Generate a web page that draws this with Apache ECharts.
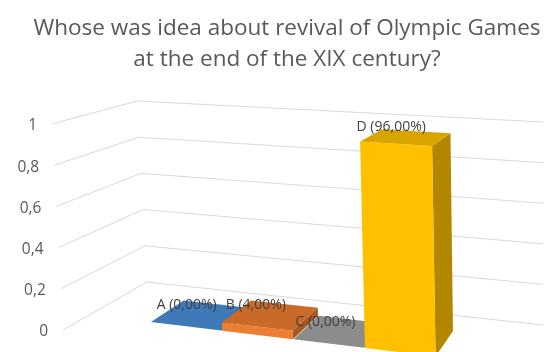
<!DOCTYPE html>
<html><head><meta charset="utf-8">
<script src="https://cdn.jsdelivr.net/npm/echarts@6/dist/echarts.min.js"></script>
<style>html,body{margin:0;padding:0;background:#fff}#c{width:550px;height:352px}</style>
</head><body><div id="c"></div>
<script>
const titleText = 'Whose was idea about revival of Olympic Games\nat the end of the XIX century?';
const categories = ['A', 'B', 'C', 'D'];
const values = [0, 0.04, 0, 0.96];
const yTicks = [0, 0.2, 0.4, 0.6, 0.8, 1];
const yTickLabels = ['0', '0,2', '0,4', '0,6', '0,8', '1'];
const colors = ['#4A8FD8', '#ED7D31', '#A5A5A5', '#FFC000'];

// perspective frame corners (layout): [X][V][Z]
const C000 = [63, 330], C010 = [52, 124], C001 = [147, 282], C011 = [137, 101];
const C100 = [513.6, 386.8], C110 = [510.9, 151.9], C101 = [543, 325], C111 = [543, 122];
const ZF = 0.32, ZB = 0.75, BAR_W = 0.99;

function lerp(a, b, t) { return [a[0] + (b[0] - a[0]) * t, a[1] + (b[1] - a[1]) * t]; }
function P(X, V, Z) {
  const c00 = lerp(C000, C100, X), c10 = lerp(C010, C110, X);
  const c01 = lerp(C001, C101, X), c11 = lerp(C011, C111, X);
  return lerp(lerp(c00, c10, V), lerp(c01, c11, V), Z);
}
function shade(hex, f) {
  const n = parseInt(hex.slice(1), 16);
  const r = Math.round(((n >> 16) & 255) * f), g = Math.round(((n >> 8) & 255) * f), b = Math.round((n & 255) * f);
  return 'rgb(' + r + ',' + g + ',' + b + ')';
}
function normX(cs, px) { return (px - cs.x) / cs.width; }
function normV(cs, py) { return (cs.y + cs.height - py) / cs.height; }

function renderWall(params, api) {
  const cs = params.coordSys;
  const t = api.value(1);
  const V = normV(cs, api.coord([0, t])[1]);
  const a = P(0, V, 0), b = P(0, V, 1), c = P(1, V, 1);
  return {
    type: 'group',
    children: [
      { type: 'polyline', shape: { points: [a, b, c] }, style: { stroke: '#d9d9d9', lineWidth: 1, fill: null } },
      { type: 'text', x: a[0] - 15, y: a[1] + 2,
        style: { text: yTickLabels[params.dataIndex], fill: '#595959', font: '15.5px "Open Sans", sans-serif', align: 'right', verticalAlign: 'middle' } }
    ]
  };
}

function renderBar(params, api) {
  const cs = params.coordSys;
  const i = api.value(0), v = api.value(1);
  const half = api.size([BAR_W, 0])[0] / 2;
  const ct = api.coord([i, v]), cb = api.coord([i, 0]);
  const xl = normX(cs, ct[0] - half), xr = normX(cs, ct[0] + half);
  const vt = normV(cs, ct[1]), vb = normV(cs, cb[1]);
  const col = colors[params.dataIndex];
  const front = [P(xl, vb, ZF), P(xr, vb, ZF), P(xr, vt, ZF), P(xl, vt, ZF)];
  const side = [P(xr, vb, ZF), P(xr, vb, ZB), P(xr, vt, ZB), P(xr, vt, ZF)];
  const top = [P(xl, vt, ZF), P(xr, vt, ZF), P(xr, vt, ZB), P(xl, vt, ZB)];
  const tc = P((xl + xr) / 2, vt, (ZF + ZB) / 2);
  const label = categories[params.dataIndex] + ' (' + (v * 100).toFixed(2).replace('.', ',') + '%)';
  return {
    type: 'group',
    children: [
      { type: 'polygon', shape: { points: side }, style: { fill: shade(col, 0.7) } },
      { type: 'polygon', shape: { points: front }, style: { fill: col } },
      { type: 'polygon', shape: { points: top }, style: { fill: shade(col, 0.85) } },
      { type: 'text', x: tc[0] - 15, y: tc[1] - 10, z2: 10,
        style: { text: label, fill: '#404040', font: '14px "Open Sans", sans-serif', align: 'center', verticalAlign: 'middle' } }
    ]
  };
}

const chart = echarts.init(document.getElementById('c'), null, { renderer: 'canvas' });
chart.setOption({
  animation: false,
  backgroundColor: '#ffffff',
  title: {
    text: titleText, left: 282, textAlign: 'center', top: 8,
    textStyle: { fontFamily: 'Open Sans', fontSize: 22.5, fontWeight: 'normal', color: '#595959', lineHeight: 31 }
  },
  grid: { left: 0, right: 0, top: 0, bottom: 0 },
  xAxis: { type: 'value', min: -1.35, max: 4.72, show: false },
  yAxis: { type: 'value', min: 0, max: 1, show: false },
  series: [
    { type: 'custom', renderItem: renderWall, clip: false, z: 1,
      data: yTicks.map(t => [0, t]) },
    { type: 'custom', renderItem: renderBar, clip: false, z: 2,
      data: values.map((v, i) => [i, v]) }
  ]
});
</script>
</body></html>
